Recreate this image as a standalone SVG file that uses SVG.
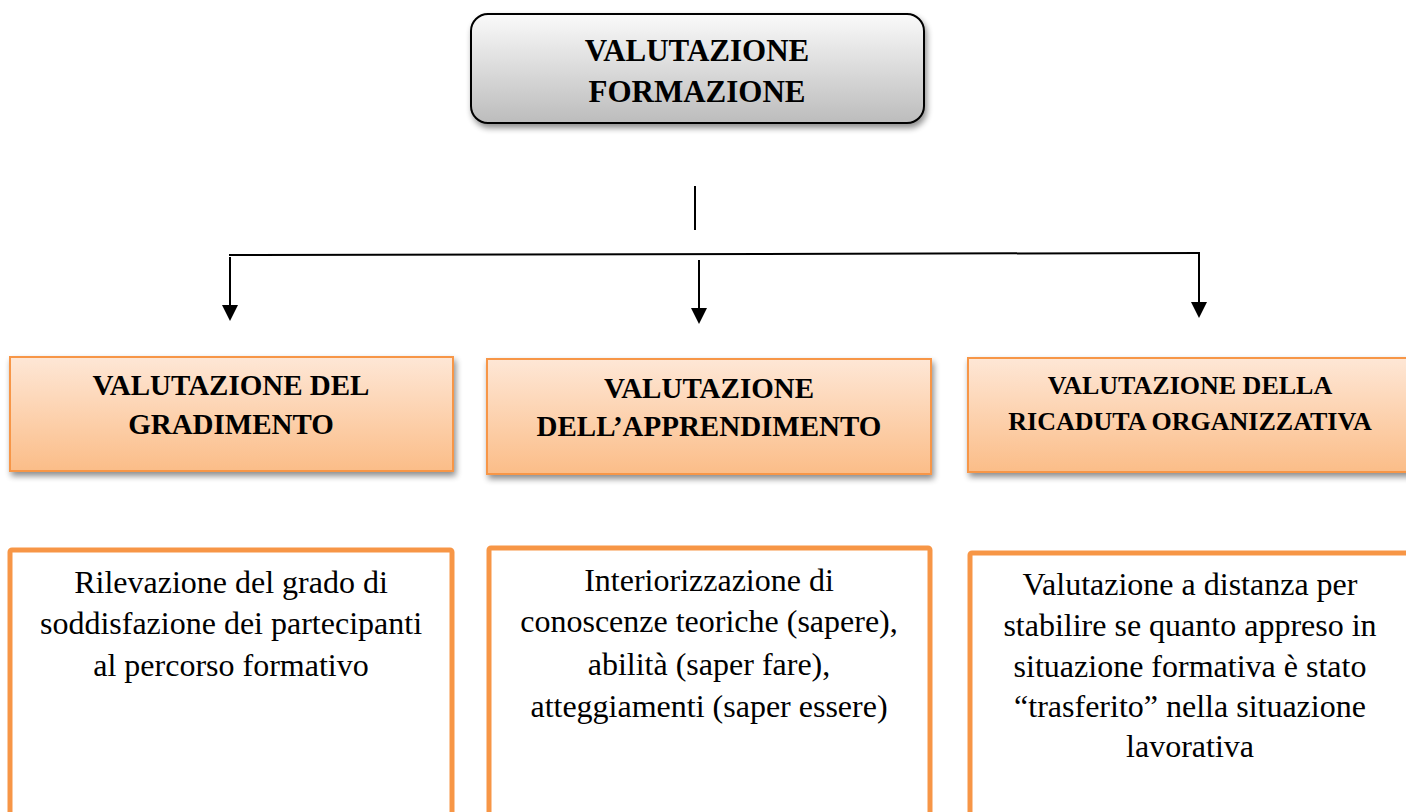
<svg xmlns="http://www.w3.org/2000/svg" width="1406" height="812" viewBox="0 0 1406 812">
<defs>
<linearGradient id="gGray" x1="0" y1="0" x2="0" y2="1">
<stop offset="0" stop-color="#fafafa"/>
<stop offset="1" stop-color="#bcbcbc"/>
</linearGradient>
<linearGradient id="gOrange" x1="0" y1="0" x2="0" y2="1">
<stop offset="0" stop-color="#fee7d6"/>
<stop offset="1" stop-color="#fbbd88"/>
</linearGradient>
<filter id="shadow" x="-10%" y="-20%" width="130%" height="150%">
<feGaussianBlur in="SourceAlpha" stdDeviation="3"/>
<feOffset dx="2" dy="4" result="b"/>
<feComponentTransfer><feFuncA type="linear" slope="0.45"/></feComponentTransfer>
<feMerge><feMergeNode/><feMergeNode in="SourceGraphic"/></feMerge>
</filter>
<marker id="arrow" viewBox="0 0 16 16" refX="8" refY="16" markerWidth="16" markerHeight="16" markerUnits="userSpaceOnUse" orient="auto-start-reverse">
<path d="M0,0 L16,0 L8,16 Z" fill="#000"/>
</marker>
</defs>
<style>
.head{font-family:"Liberation Serif","Times New Roman",serif;font-weight:bold;fill:#000;text-anchor:middle}
.body{font-family:"Liberation Serif","Times New Roman",serif;font-size:32px;fill:#000;text-anchor:middle}
.obox{fill:url(#gOrange);stroke:#f79646;stroke-width:2}
.wbox{fill:#fff;stroke:#f79646;stroke-width:5}
.line{stroke:#000;stroke-width:2;fill:none}
</style>
<rect width="1406" height="812" fill="#fff"/>

<g id="root">
<rect x="471" y="14" width="453" height="109" rx="17" ry="17" fill="url(#gGray)" stroke="#000" stroke-width="2" filter="url(#shadow)"/>
<text class="head" x="697" y="61" font-size="31">VALUTAZIONE</text>
<text class="head" x="697" y="102" font-size="31">FORMAZIONE</text>
</g>

<g id="connectors">
<line class="line" x1="695" y1="186" x2="695" y2="230"/>
<line class="line" x1="229" y1="255" x2="1200" y2="253"/>
<line class="line" x1="230" y1="257" x2="230" y2="305"/>
<path d="M222,305 L238,305 L230,321 Z" fill="#000"/>
<line class="line" x1="699" y1="260" x2="699" y2="308"/>
<path d="M691,308 L707,308 L699,324 Z" fill="#000"/>
<line class="line" x1="1199" y1="253" x2="1199" y2="302"/>
<path d="M1191,302 L1207,302 L1199,318 Z" fill="#000"/>
</g>

<g id="n1">
<rect class="obox" x="10" y="357" width="443" height="114" filter="url(#shadow)"/>
<text class="head" x="231" y="395" font-size="29">VALUTAZIONE DEL</text>
<text class="head" x="231" y="434" font-size="29">GRADIMENTO</text>
</g>
<g id="n2">
<rect class="obox" x="487" y="359" width="444" height="115" filter="url(#shadow)"/>
<text class="head" x="709" y="398" font-size="29">VALUTAZIONE</text>
<text class="head" x="709" y="436" font-size="29">DELL’APPRENDIMENTO</text>
</g>
<g id="n3">
<rect class="obox" x="968" y="358" width="450" height="114" filter="url(#shadow)"/>
<text class="head" x="1190" y="394" font-size="26">VALUTAZIONE DELLA</text>
<text class="head" x="1190" y="430" font-size="26">RICADUTA ORGANIZZATIVA</text>
</g>

<g id="d1">
<rect class="wbox" x="10" y="550" width="442" height="280" rx="2"/>
<text class="body" x="231" y="593">Rilevazione del grado di</text>
<text class="body" x="231" y="634">soddisfazione dei partecipanti</text>
<text class="body" x="231" y="676">al percorso formativo</text>
</g>
<g id="d2">
<rect class="wbox" x="489" y="548" width="441" height="282" rx="2"/>
<text class="body" x="709" y="591">Interiorizzazione di</text>
<text class="body" x="709" y="632">conoscenze teoriche (sapere),</text>
<text class="body" x="709" y="675">abilità (saper fare),</text>
<text class="body" x="709" y="717">atteggiamenti (saper essere)</text>
</g>
<g id="d3">
<rect class="wbox" x="970" y="553" width="450" height="280" rx="2"/>
<text class="body" x="1190" y="595">Valutazione a distanza per</text>
<text class="body" x="1190" y="636">stabilire se quanto appreso in</text>
<text class="body" x="1190" y="677">situazione formativa è stato</text>
<text class="body" x="1190" y="717">“trasferito” nella situazione</text>
<text class="body" x="1190" y="757">lavorativa</text>
</g>
</svg>
